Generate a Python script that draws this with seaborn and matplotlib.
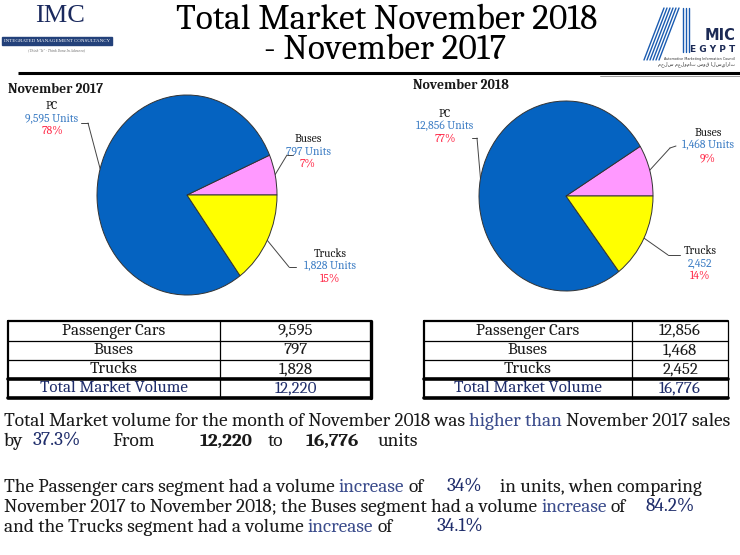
import numpy as np
import pandas as pd
import matplotlib
matplotlib.use('Agg')
import matplotlib.pyplot as plt
import seaborn as sns

# ---- data ----
segments = ['PC', 'Buses', 'Trucks']
table_names = ['Passenger Cars', 'Buses', 'Trucks']
units_2017 = [9595, 797, 1828]
units_2018 = [12856, 1468, 2452]
pct_2017 = [78, 7, 15]
pct_2018 = [77, 9, 14]
unit_suffix_2017 = [' Units', ' Units', ' Units']
unit_suffix_2018 = [' Units', ' Units', '']
total_growth = '37.3%'
segment_growth = ['34%', '84.2%', '34.1%']
pie_colors = ['#0563C1', '#FF99FF', '#FFFF00']

SERIF = 'Caladea'
BLACK = '#1a1a1a'
NAVY = '#1F2D6B'
SOFT_BLUE = '#3B4C8C'
UNIT_BLUE = '#3F7FC5'
PCT_RED = '#FF2B4A'

sns.set_theme(style='white')
plt.rcParams['font.family'] = [SERIF, 'Liberation Serif', 'DejaVu Sans']

W, H = 740, 555
fig = plt.figure(figsize=(W / 100, H / 100), dpi=100)
fig.patch.set_facecolor('white')
renderer = fig.canvas.get_renderer()

# background axis in pixel coords (y down)
bg = fig.add_axes([0, 0, 1, 1])
bg.set_xlim(0, W)
bg.set_ylim(H, 0)
bg.axis('off')


def fit_size(text, target, base=12, **kw):
    t = fig.text(0, 0, text, fontsize=base, **kw)
    w = t.get_window_extent(renderer).width
    t.remove()
    return base * target / w


# ---- header ----
ts = fit_size('Total Market November 2018', 422, family=SERIF)
bg.text(387, 20, 'Total Market November 2018', fontsize=ts, ha='center', va='center', color='black')
bg.text(385, 50, '- November 2017', fontsize=ts, ha='center', va='center', color='black')
bg.plot([18, 740], [73, 73], color='black', lw=2.2, solid_capstyle='butt')
bg.plot([600, 740], [76, 76], color='#888888', lw=0.6)

# IMC logo
bg.text(60, 16, 'IMC', fontsize=19, ha='center', va='center', color='#1B2A5E', family='Liberation Serif')
bg.add_patch(plt.Rectangle((2, 37), 110, 8, color='#23417A'))
bg.text(57, 41.3, 'INTEGRATED MANAGEMENT CONSULTANCY', fontsize=3.6, ha='center', va='center',
        color='white', family='Liberation Serif')
bg.text(57, 50, '(Think "It" - Think Done In Advance)', fontsize=2.8, ha='center', va='center',
        color='#777777', style='italic')

# AMIC logo
for i in range(6):
    bg.plot([644 + i * 3.0, 664 + i * 3.0], [60, 8], color='#1A5BB0', lw=1.0)
for i in range(3):
    bg.plot([683 + i * 3.0, 683 + i * 3.0], [8, 52], color='#1A5BB0', lw=1.0)
bg.text(735, 36, 'MIC', fontsize=10.5, ha='right', va='center', color='#1C2A55',
        family='DejaVu Sans', weight='bold')
bg.text(735, 50, 'E G Y P T', fontsize=6.5, ha='right', va='center', color='#1C2A55',
        family='DejaVu Sans', weight='bold')
bg.text(735, 59, 'Automotive Marketing Information Council', fontsize=2.4, ha='right', va='center',
        color='#333333', family='DejaVu Sans')
bg.text(735, 64, 'مجلس معلومات سوق السيارات', fontsize=3.5, ha='right', va='center',
        color='#333333', family='DejaVu Sans')

# ---- pies ----
order = [1, 0, 2]   # buses, PC, trucks counter-clockwise from 3 o'clock
ls = fit_size('9,595 Units', 53, family=SERIF)
hs = fit_size('November 2017', 94, family=SERIF, weight='bold')


def draw_pie(box, values, pcts, suffix, title, title_xy, labels_xy, elbows):
    x0, y0, x1, y1 = box
    ax = fig.add_axes([x0 / W, 1 - y1 / H, (x1 - x0) / W, (y1 - y0) / H])
    wedges, _ = ax.pie([values[i] for i in order], colors=[pie_colors[i] for i in order],
                       startangle=0, counterclock=True,
                       wedgeprops=dict(edgecolor='#333333', linewidth=0.7))
    ax.set_aspect('auto')
    ax.set_xlim(-1, 1)
    ax.set_ylim(-1, 1)
    ax.axis('off')
    bg.text(title_xy[0], title_xy[1], title, fontsize=hs, weight='bold', ha='left', va='center', color=BLACK)
    for k, i in enumerate(order):
        w = wedges[k]
        mid = np.radians((w.theta1 + w.theta2) / 2)
        lx, ly = labels_xy[i]
        bg.text(lx, ly, segments[i], fontsize=ls, ha='center', va='center', color=BLACK)
        bg.text(lx, ly + 12.5, f'{values[i]:,}{suffix[i]}', fontsize=ls, ha='center', va='center', color=UNIT_BLUE)
        bg.text(lx, ly + 25, f'{pcts[i]}%', fontsize=ls, ha='center', va='center', color=PCT_RED)
        (ex0, ey0), (ex1, ey1) = elbows[i]
        bg.plot([ex0, ex1], [ey0, ey1], color='#444444', lw=0.7)
        bg.annotate('', xy=(np.cos(mid), np.sin(mid)), xycoords=ax.transData,
                    xytext=(ex1, ey1), textcoords=bg.transData,
                    arrowprops=dict(arrowstyle='-', color='#444444', lw=0.7, shrinkA=0, shrinkB=0))


draw_pie((97, 95, 277, 295), units_2017, pct_2017, unit_suffix_2017, 'November 2017', (8, 89),
         [(52, 106), (308, 139), (330, 254)],
         [((81, 123), (88, 123)), ((293, 155), (287, 155)), ((296, 267), (289, 267))])
draw_pie((479, 101, 653, 291), units_2018, pct_2018, unit_suffix_2018, 'November 2018', (413, 85),
         [(445, 114), (708, 133), (700, 251)],
         [((472, 138), (477, 138)), ((676, 146), (670, 148)), ((680, 255), (668, 255))])

# ---- tables ----
tb = fit_size('Passenger Cars', 102, family=SERIF)
rows_y = [321, 341, 360, 379, 398]


def draw_table(x0, xs, x1, names, values, right_closed=True):
    tbl = pd.DataFrame({'name': names + ['Total Market Volume'], 'value': values + [sum(values)]})
    for r, row in tbl.iterrows():
        yc = (rows_y[r] + rows_y[r + 1]) / 2
        col = NAVY if r == len(tbl) - 1 else BLACK
        bg.text((x0 + xs) / 2, yc, row['name'], fontsize=tb, ha='center', va='center', color=col)
        bg.text((xs + x1) / 2, yc, f"{row['value']:,}", fontsize=tb, ha='center', va='center', color=col)
    for y in rows_y[1:3]:
        bg.plot([x0, x1], [y, y], color='black', lw=0.9)
    bg.plot([x0, x1], [rows_y[3], rows_y[3]], color='black', lw=2.6)
    bg.plot([x0, x1], [rows_y[0], rows_y[0]], color='black', lw=1.6)
    bg.plot([x0, x1], [rows_y[4], rows_y[4]], color='black', lw=2.6)
    bg.plot([x0, x0], [rows_y[0], rows_y[4]], color='black', lw=1.6)
    bg.plot([xs, xs], [rows_y[0], rows_y[4]], color='black', lw=0.9)
    bg.plot([x1, x1], [rows_y[0], rows_y[4]], color='black', lw=2.4 if right_closed else 0.9)


draw_table(8, 220, 371, table_names, units_2017)
draw_table(424, 632, 728, table_names, units_2018, right_closed=False)

# ---- commentary ----
ps = fit_size('Total Market volume for the month of November 2018 was', 462, family=SERIF)
t17, t18 = sum(units_2017), sum(units_2018)
lines = [
    (421, [(2, 'Total Market volume for the month of November 2018 was', BLACK, 'normal'),
           (468, 'higher than', SOFT_BLUE, 'normal'),
           (552, 'November 2017 sales', BLACK, 'normal')]),
    (441, [(2, 'by', BLACK, 'normal'), (33, total_growth, NAVY, 'normal'),
           (112, 'From', BLACK, 'normal'), (200, f'{t17:,}', BLACK, 'bold'),
           (268, 'to', BLACK, 'normal'), (306, f'{t18:,}', BLACK, 'bold'),
           (378, 'units', BLACK, 'normal')]),
    (487, [(2, 'The Passenger cars segment had a volume', BLACK, 'normal'),
           (328, 'increase', SOFT_BLUE, 'normal'), (395, 'of', BLACK, 'normal'),
           (447, segment_growth[0], NAVY, 'normal'),
           (500, 'in units, when comparing', BLACK, 'normal')]),
    (507, [(2, 'November 2017 to November 2018; the Buses segment had a volume', BLACK, 'normal'),
           (525, 'increase', SOFT_BLUE, 'normal'), (596, 'of', BLACK, 'normal'),
           (646, segment_growth[1], NAVY, 'normal')]),
    (527, [(2, 'and the Trucks segment had a volume', BLACK, 'normal'),
           (290, 'increase', SOFT_BLUE, 'normal'), (358, 'of', BLACK, 'normal'),
           (437, segment_growth[2], NAVY, 'normal')]),
]
for y, parts in lines:
    end = 0
    for x, txt, col, wt in parts:
        x = max(x, end + 4)
        t = bg.text(x, y, txt, fontsize=ps, ha='left', va='center', color=col, weight=wt)
        end = bg.transData.inverted().transform(t.get_window_extent(renderer))[1][0]

fig.savefig('out.png', dpi=100, facecolor='white')
